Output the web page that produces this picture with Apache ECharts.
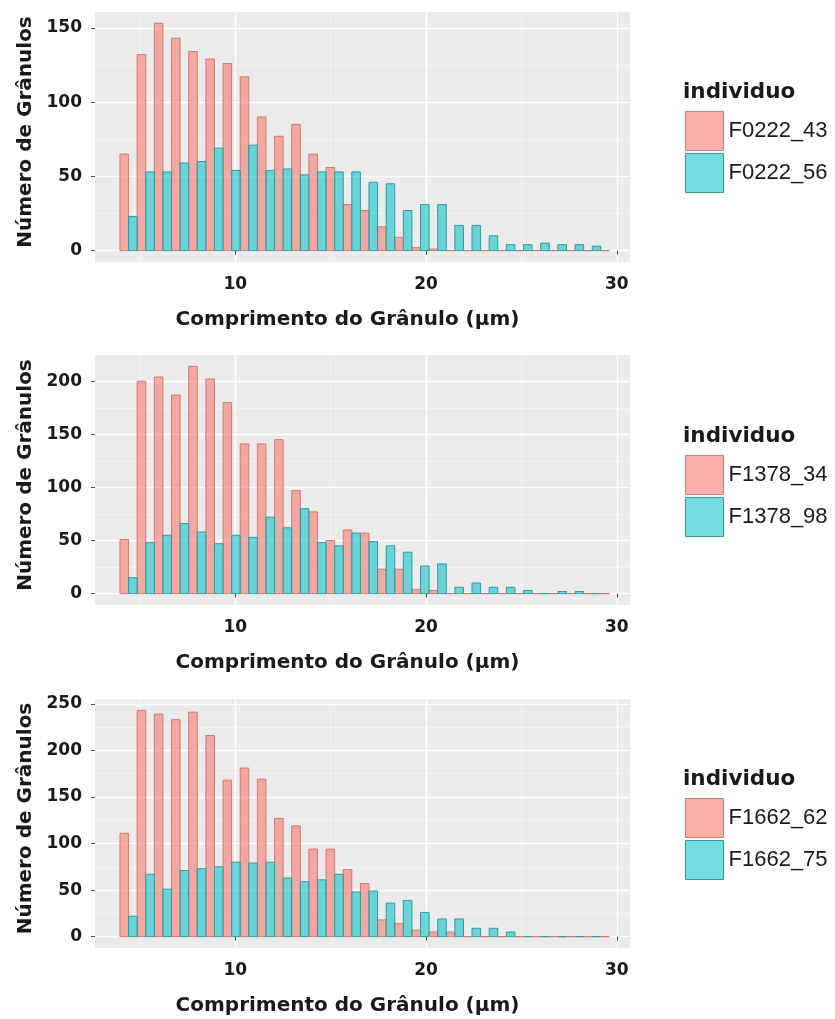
<!DOCTYPE html>
<html>
<head>
<meta charset="utf-8">
<script src="https://cdn.jsdelivr.net/npm/echarts@6/dist/echarts.min.js"></script>
<style>
  html, body { margin: 0; padding: 0; background: #ffffff; }
  #chart { width: 835px; height: 1019px; }
</style>
</head>
<body>
<div id="chart"></div>
<script>
// Histogram bins of granule length (µm): bin k spans [BIN_START + k*BIN_WIDTH, BIN_START + (k+1)*BIN_WIDTH]
const BIN_START = 3.96;
const BIN_WIDTH = 0.9;

// Granule counts per bin, one array per individual
const F0222_43 = [65, 132, 153, 143, 134, 129, 126, 117, 90, 77, 85, 65, 56, 31, 27, 16, 9, 2, 1, 0, 0, 0, 0, 0, 0, 0, 0, 0, 0];
const F0222_56 = [23, 53, 53, 59, 60, 69, 54, 71, 54, 55, 51, 53, 53, 53, 46, 45, 27, 31, 31, 17, 17, 10, 4, 4, 5, 4, 4, 3];
const F1378_34 = [51, 200, 204, 187, 214, 202, 180, 141, 141, 145, 97, 77, 50, 60, 57, 23, 23, 4, 3, 0, 0, 0, 0, 0, 0, 0, 0, 0, 0];
const F1378_98 = [15, 48, 55, 66, 58, 47, 55, 53, 72, 62, 80, 48, 45, 57, 49, 45, 39, 26, 28, 6, 10, 6, 6, 3, 0, 2, 2, 0];
const F1662_62 = [111, 243, 239, 233, 241, 216, 168, 181, 169, 127, 119, 94, 94, 72, 57, 18, 14, 7, 5, 5, 0, 0, 0, 0, 0, 0, 0, 0, 0];
const F1662_75 = [22, 67, 51, 71, 73, 75, 80, 79, 80, 63, 59, 61, 67, 48, 49, 36, 39, 26, 19, 19, 9, 9, 5, 0, 0, 0, 0, 0];

// Pairs of individuals shown together in each panel
const PANELS = [
  { names: ['F0222_43', 'F0222_56'], counts: [F0222_43, F0222_56] },
  { names: ['F1378_34', 'F1378_98'], counts: [F1378_34, F1378_98] },
  { names: ['F1662_62', 'F1662_75'], counts: [F1662_62, F1662_75] }
];

// Tick labels
const X_TICKS = [10, 20, 30];
const X_MINOR = [5, 15, 25];
const Y_TICKS = [[0, 50, 100, 150], [0, 50, 100, 150, 200], [0, 50, 100, 150, 200, 250]];
const Y_MINOR = [[25, 75, 125], [25, 75, 125, 175, 225], [25, 75, 125, 175, 225]];

const X_TITLE = 'Comprimento do Grânulo (µm)';
const Y_TITLE = 'Número de Grânulos';
const LEGEND_TITLE = 'individuo';

// Layout
const X_MIN = 2.65, X_MAX = 30.69;
const GRID_LEFT = 95, GRID_WIDTH = 535;
const GRID_TOP = [12, 355, 699];
const GRID_HEIGHT = [250, 250, 249];
const LEGEND_TOP = [111, 455, 798];
const LEGEND_LEFT = 685;

const FILLS = ['rgba(248,118,109,0.58)', 'rgba(0,191,196,0.55)'];
const STROKES = ['#D37A74', '#2F9DA0'];
const PANEL_BG = '#EBEBEB';
const TEXT = '#1a1a1a';
const BOLD_FONT = 'DejaVu Sans';

function renderBar(params, api) {
  const x0 = api.value(0), x1 = api.value(1), v = api.value(2);
  const top = api.coord([x0, v]);
  const base = api.coord([x1, 0]);
  return {
    type: 'rect',
    shape: { x: top[0], y: top[1], width: base[0] - top[0], height: base[1] - top[1] },
    style: api.style()
  };
}

const grid = [], xAxis = [], yAxis = [], series = [], legend = [], title = [];

PANELS.forEach((panel, i) => {
  grid.push({
    left: GRID_LEFT, top: GRID_TOP[i], width: GRID_WIDTH, height: GRID_HEIGHT[i],
    show: true, backgroundColor: PANEL_BG, borderWidth: 0
  });

  const ymax = Math.max(...panel.counts[0], ...panel.counts[1]);
  const ymin = -0.05 * ymax, ytop = 1.05 * ymax;

  // main x axis: labels, ticks and major grid lines
  xAxis.push({
    type: 'value', gridIndex: i, min: X_MIN, max: X_MAX, position: 'bottom',
    axisLine: { show: false },
    axisTick: { show: true, length: 4, customValues: X_TICKS, lineStyle: { color: '#4a4a4a', width: 1 } },
    axisLabel: {
      customValues: X_TICKS, margin: 14, color: TEXT,
      fontFamily: BOLD_FONT, fontWeight: 'bold', fontSize: 17
    },
    splitLine: { show: true, lineStyle: { color: '#ffffff', width: 1.3 } },
    name: X_TITLE, nameLocation: 'middle', nameGap: 48,
    nameTextStyle: {
      fontFamily: BOLD_FONT, fontWeight: 'bold', fontSize: 20, color: TEXT,
      padding: [0, 30, 0, 0]
    }
  });
  // minor x grid lines
  xAxis.push({
    type: 'value', gridIndex: i, min: X_MIN, max: X_MAX, position: 'top',
    axisLine: { show: false },
    axisTick: { show: false, customValues: X_MINOR },
    axisLabel: { show: false },
    splitLine: { show: true, lineStyle: { color: '#F6F6F6', width: 0.7 } }
  });

  yAxis.push({
    type: 'value', gridIndex: i, min: ymin, max: ytop, position: 'left',
    axisLine: { show: false },
    axisTick: { show: true, length: 4, customValues: Y_TICKS[i], lineStyle: { color: '#4a4a4a', width: 1 } },
    axisLabel: {
      customValues: Y_TICKS[i], margin: 13, color: TEXT,
      fontFamily: BOLD_FONT, fontWeight: 'bold', fontSize: 17
    },
    splitLine: { show: true, lineStyle: { color: '#ffffff', width: 1.3 } },
    name: Y_TITLE, nameLocation: 'middle', nameGap: 59,
    nameTextStyle: {
      fontFamily: BOLD_FONT, fontWeight: 'bold', fontSize: 20, color: TEXT,
      padding: [0, 0, 0, 10]
    }
  });
  yAxis.push({
    type: 'value', gridIndex: i, min: ymin, max: ytop, position: 'right',
    axisLine: { show: false },
    axisTick: { show: false, customValues: Y_MINOR[i] },
    axisLabel: { show: false },
    splitLine: { show: true, lineStyle: { color: '#F6F6F6', width: 0.7 } }
  });

  // dodged histogram bars: first individual on the left half of each bin, second on the right half
  panel.names.forEach((name, g) => {
    const data = panel.counts[g].map((v, k) => {
      const start = BIN_START + k * BIN_WIDTH + g * BIN_WIDTH / 2;
      return [start, start + BIN_WIDTH / 2, v];
    });
    series.push({
      type: 'custom', name: name,
      xAxisIndex: 2 * i, yAxisIndex: 2 * i,
      renderItem: renderBar,
      encode: { x: [0, 1], y: 2 },
      itemStyle: { color: FILLS[g], borderColor: STROKES[g], borderWidth: 1 },
      data: data, z: 3, animation: false
    });
  });

  legend.push({
    data: panel.names, orient: 'vertical', left: LEGEND_LEFT, top: LEGEND_TOP[i],
    padding: 0, itemWidth: 38, itemHeight: 39, itemGap: 2, icon: 'rect',
    itemStyle: { borderWidth: 1 },
    selectedMode: false,
    textStyle: { fontFamily: 'Liberation Sans', fontSize: 22, color: TEXT }
  });
  title.push({
    text: LEGEND_TITLE, left: LEGEND_LEFT - 2, top: LEGEND_TOP[i] - 30, padding: 0,
    textStyle: { fontFamily: BOLD_FONT, fontWeight: 'bold', fontSize: 21.5, color: TEXT }
  });
});

const chart = echarts.init(document.getElementById('chart'), null, { renderer: 'canvas' });
chart.setOption({
  backgroundColor: '#ffffff',
  animation: false,
  title, legend, grid, xAxis, yAxis, series
});
</script>
</body>
</html>
